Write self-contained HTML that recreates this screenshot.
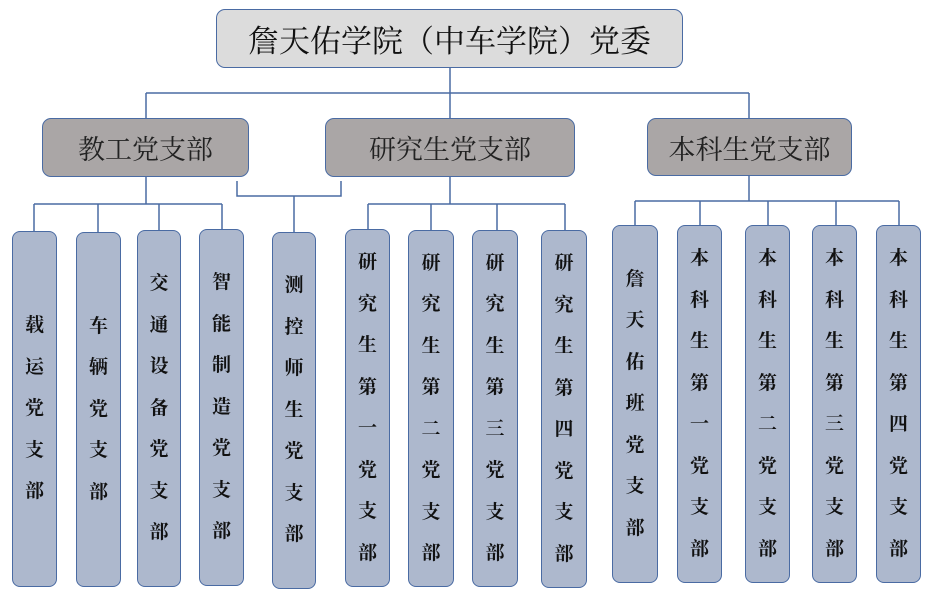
<!DOCTYPE html>
<html><head><meta charset="utf-8"><style>
body{margin:0;width:941px;height:612px;background:#fff;position:relative;overflow:hidden;font-family:"Liberation Serif","Noto Serif CJK SC","Noto Sans CJK SC",serif;}
.b{position:absolute;box-sizing:border-box;border:1.5px solid #4a6ba3;border-radius:9px;display:flex;align-items:center;justify-content:center;color:#111;}
.top{background:#dcdcdc;font-size:31px;}
.mid{background:#aaa6a6;font-size:27px;color:#222;}
.leaf{background:#adb8cd;flex-direction:column;font-size:19px;font-weight:bold;line-height:41.5px;border-radius:8px;}
.leaf span{display:block}
svg{position:absolute;left:0;top:0}
</style></head><body>
<svg width="941" height="612"><g stroke="#4a6ba3" stroke-width="1.5" fill="none">
<path d="M450 68V93M146 93H749M146 93V118M450 93V118M749 93V118"/>
<path d="M146 177V204M34 204H222M34 204V231M98 204V232M159 204V230M222 204V229"/>
<path d="M237 181V196H341V181M294 196V232"/>
<path d="M450 177V204M368 204H565M368 204V229M431 204V230M497 204V230M565 204V230"/>
<path d="M749 176V201M635 201H899M635 201V225M700 201V225M768 201V225M836 201V225M899 201V225"/>
</g></svg>
<div class="b top" style="left:216px;top:9px;width:467px;height:59px">詹天佑学院（中车学院）党委</div>
<div class="b mid" style="left:42px;top:118px;width:207px;height:59px">教工党支部</div>
<div class="b mid" style="left:325px;top:118px;width:250px;height:59px">研究生党支部</div>
<div class="b mid" style="left:647px;top:118px;width:205px;height:58px">本科生党支部</div>
<div class="b leaf" style="left:12px;top:231px;width:45px;height:356px"><span>载</span><span>运</span><span>党</span><span>支</span><span>部</span></div>
<div class="b leaf" style="left:76px;top:232px;width:45px;height:355px"><span>车</span><span>辆</span><span>党</span><span>支</span><span>部</span></div>
<div class="b leaf" style="left:137px;top:230px;width:44px;height:357px"><span>交</span><span>通</span><span>设</span><span>备</span><span>党</span><span>支</span><span>部</span></div>
<div class="b leaf" style="left:199px;top:229px;width:45px;height:357px"><span>智</span><span>能</span><span>制</span><span>造</span><span>党</span><span>支</span><span>部</span></div>
<div class="b leaf" style="left:272px;top:232px;width:44px;height:357px"><span>测</span><span>控</span><span>师</span><span>生</span><span>党</span><span>支</span><span>部</span></div>
<div class="b leaf" style="left:345px;top:229px;width:45px;height:358px"><span>研</span><span>究</span><span>生</span><span>第</span><span>一</span><span>党</span><span>支</span><span>部</span></div>
<div class="b leaf" style="left:408px;top:230px;width:46px;height:357px"><span>研</span><span>究</span><span>生</span><span>第</span><span>二</span><span>党</span><span>支</span><span>部</span></div>
<div class="b leaf" style="left:472px;top:230px;width:46px;height:357px"><span>研</span><span>究</span><span>生</span><span>第</span><span>三</span><span>党</span><span>支</span><span>部</span></div>
<div class="b leaf" style="left:541px;top:230px;width:46px;height:358px"><span>研</span><span>究</span><span>生</span><span>第</span><span>四</span><span>党</span><span>支</span><span>部</span></div>
<div class="b leaf" style="left:612px;top:225px;width:46px;height:358px"><span>詹</span><span>天</span><span>佑</span><span>班</span><span>党</span><span>支</span><span>部</span></div>
<div class="b leaf" style="left:677px;top:225px;width:45px;height:358px"><span>本</span><span>科</span><span>生</span><span>第</span><span>一</span><span>党</span><span>支</span><span>部</span></div>
<div class="b leaf" style="left:745px;top:225px;width:45px;height:358px"><span>本</span><span>科</span><span>生</span><span>第</span><span>二</span><span>党</span><span>支</span><span>部</span></div>
<div class="b leaf" style="left:812px;top:225px;width:45px;height:358px"><span>本</span><span>科</span><span>生</span><span>第</span><span>三</span><span>党</span><span>支</span><span>部</span></div>
<div class="b leaf" style="left:876px;top:225px;width:45px;height:358px"><span>本</span><span>科</span><span>生</span><span>第</span><span>四</span><span>党</span><span>支</span><span>部</span></div>
</body></html>
